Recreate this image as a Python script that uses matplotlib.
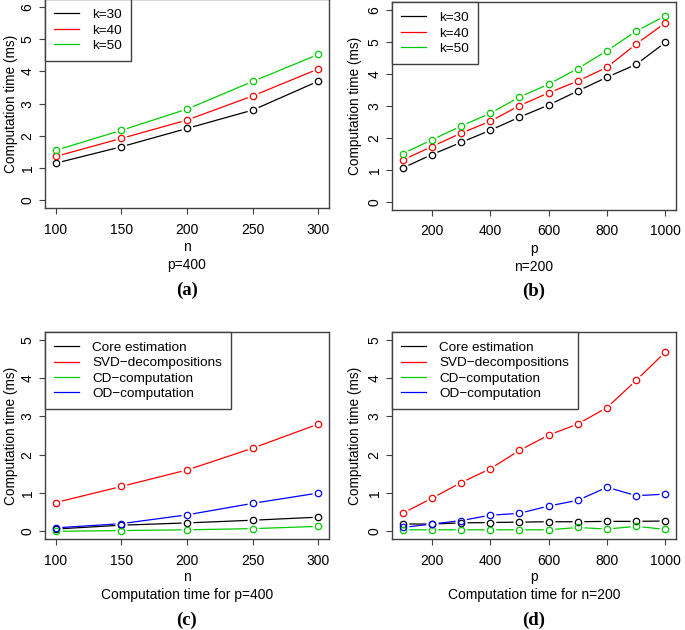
import matplotlib
matplotlib.use('Agg')
import matplotlib.pyplot as plt

plt.rcParams['font.family'] = ['Liberation Sans', 'DejaVu Sans']

# panel (a): n varies, p=400
n_vals = [100, 150, 200, 250, 300]
a_k30 = [1.15, 1.66, 2.23, 2.80, 3.70]
a_k40 = [1.36, 1.92, 2.49, 3.24, 4.08]
a_k50 = [1.55, 2.17, 2.83, 3.69, 4.53]

# panel (b): p varies, n=200
p_vals = [100, 200, 300, 400, 500, 600, 700, 800, 900, 1000]
b_k30 = [1.06, 1.48, 1.86, 2.24, 2.65, 3.03, 3.47, 3.90, 4.30, 4.99]
b_k40 = [1.31, 1.73, 2.15, 2.52, 3.01, 3.41, 3.78, 4.21, 4.94, 5.60]
b_k50 = [1.51, 1.94, 2.37, 2.77, 3.28, 3.68, 4.17, 4.73, 5.34, 5.82]

# panel (c): components, p=400
c_core = [0.06, 0.16, 0.22, 0.29, 0.37]
c_svd = [0.75, 1.17, 1.60, 2.17, 2.80]
c_cd = [0.00, 0.02, 0.04, 0.07, 0.13]
c_od = [0.09, 0.20, 0.43, 0.73, 1.00]

# panel (d): components, n=200
d_core = [0.19, 0.19, 0.22, 0.23, 0.24, 0.25, 0.25, 0.26, 0.26, 0.27]
d_svd = [0.47, 0.86, 1.27, 1.63, 2.11, 2.51, 2.80, 3.23, 3.94, 4.68]
d_cd = [0.04, 0.04, 0.04, 0.04, 0.04, 0.04, 0.10, 0.06, 0.13, 0.05]
d_od = [0.10, 0.19, 0.28, 0.42, 0.47, 0.66, 0.81, 1.15, 0.93, 0.97]

k_labels = ['k=30', 'k=40', 'k=50']
comp_labels = ['Core estimation', 'SVD\u2212decompositions',
               'CD\u2212computation', 'OD\u2212computation']
cols = ['black', '#FF0000', '#00CD00', '#0000FF']
frame = '#404040'

W, H = 685, 630
fig = plt.figure(figsize=(W / 100, H / 100), dpi=100)


def px_axes(l, t, r, b):
    return fig.add_axes([l / W, 1 - b / H, (r - l) / W, (b - t) / H])


def draw(ax, x, series, labels, xticks, yticks, xlim, ylim):
    for ys, c, lab in zip(series, cols, labels):
        ax.plot(x, ys, color=c, lw=0.9, label=lab, zorder=2)
        ax.plot(x, ys, ls='none', marker='o', ms=7.5, mfc='white',
                mec='white', zorder=3)
        ax.plot(x, ys, ls='none', marker='o', ms=4.6, mfc='none',
                mec=c, mew=0.9, zorder=4)
    ax.set_xlim(xlim)
    ax.set_ylim(ylim)
    ax.set_xticks(xticks)
    ax.set_yticks(yticks)
    ax.tick_params(axis='both', labelsize=10, length=4.5, width=0.8,
                   color=frame, direction='out')
    ax.tick_params(axis='x', pad=6)
    ax.tick_params(axis='y', pad=3)
    for lab in ax.get_yticklabels():
        lab.set_rotation(90)
        lab.set_va('center')
    for s in ax.spines.values():
        s.set_color(frame)
        s.set_linewidth(1.0)
    leg = ax.legend(loc='upper left', bbox_to_anchor=(0, 1), borderaxespad=0,
                    fancybox=False, framealpha=1, edgecolor=frame,
                    fontsize=9.7, handlelength=1.8, handletextpad=1.0,
                    labelspacing=0.22, borderpad=0.7)
    leg.get_frame().set_linewidth(1.0)


ax_a = px_axes(45, -0.7, 329, 208)
draw(ax_a, n_vals, [a_k30, a_k40, a_k50], k_labels,
     [100, 150, 200, 250, 300], range(0, 7), (92, 308), (-0.24, 6.24))
ax_b = px_axes(392, 2.3, 676, 209.7)
draw(ax_b, p_vals, [b_k30, b_k40, b_k50], k_labels,
     [200, 400, 600, 800, 1000], range(0, 7), (64, 1036), (-0.24, 6.24))
ax_c = px_axes(45, 332, 329, 539)
draw(ax_c, n_vals, [c_core, c_svd, c_cd, c_od], comp_labels,
     [100, 150, 200, 250, 300], range(0, 6), (92, 308), (-0.2, 5.2))
ax_d = px_axes(392, 332, 676, 539)
draw(ax_d, p_vals, [d_core, d_svd, d_cd, d_od], comp_labels,
     [200, 400, 600, 800, 1000], range(0, 6), (64, 1036), (-0.2, 5.2))


def ftext(x, y, s, **kw):
    fig.text(x / W, 1 - y / H, s, ha='center', va='center', **kw)


ylab = 'Computation time (ms)'
for x0, ytop, ybot in [(11, 0, 208), (355, 2, 210), (11, 332, 539), (355, 332, 539)]:
    ftext(x0, (ytop + ybot) / 2, ylab, fontsize=9.8, rotation=90)

serif = dict(fontsize=13.5, fontweight='bold', family='Liberation Serif')
ftext(187, 247, 'n', fontsize=10)
ftext(187, 265, 'p=400', fontsize=10)
ftext(187, 290, '(a)', **serif)
ftext(534, 249, 'p', fontsize=10)
ftext(534, 267, 'n=200', fontsize=10)
ftext(534, 291, '(b)', **serif)
ftext(187, 577, 'n', fontsize=10)
ftext(187, 595, 'Computation time for p=400', fontsize=10)
ftext(187, 620, '(c)', **serif)
ftext(534, 577, 'p', fontsize=10)
ftext(534, 595, 'Computation time for n=200', fontsize=10)
ftext(534, 620, '(d)', **serif)

fig.savefig('out.png', dpi=100)
